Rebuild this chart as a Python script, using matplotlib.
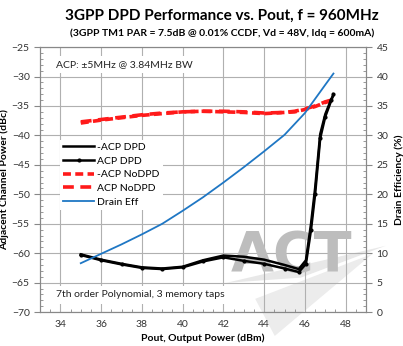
import matplotlib
matplotlib.use('Agg')
from matplotlib import pyplot as plt
from matplotlib.ticker import MultipleLocator
from matplotlib.patches import Polygon

plt.rcParams['font.family'] = ['Lato', 'DejaVu Sans']

# 数据
pout_nodpd = [35, 36, 37, 38, 39, 40, 41, 42, 43, 44, 45, 45.5, 46, 46.5, 47, 47.4]
acp_lo_nodpd = [-37.9, -37.4, -37.0, -36.6, -36.3, -36.0, -35.9, -36.0, -36.1, -36.3, -36.1, -36.0, -35.6, -35.1, -34.4, -34.0]
acp_hi_nodpd = [-37.7, -37.3, -36.9, -36.5, -36.2, -36.0, -35.9, -35.9, -36.0, -36.2, -36.1, -35.9, -35.5, -35.0, -34.3, -33.9]

pout_dpd = [35, 36, 37, 38, 39, 40, 41, 42, 43, 44, 45, 45.7, 46.05, 46.3, 46.5, 46.75, 47.0, 47.3, 47.4]
acp_lo_dpd = [-60.2, -61.1, -61.8, -62.4, -62.6, -62.3, -61.2, -60.4, -60.6, -61.1, -62.0, -62.7, -61.2, -55.0, -49.0, -39.8, -36.4, -33.8, -33.2]
acp_hi_dpd = [-60.3, -61.2, -61.9, -62.5, -62.7, -62.4, -61.4, -60.7, -61.3, -61.8, -62.6, -63.2, -61.8, -56.0, -50.0, -40.5, -36.8, -34.0, -33.0]

pout_eff = [35, 36, 37, 38, 39, 40, 41, 42, 43, 44, 45, 46, 47, 47.4]
drain_eff = [8.3, 9.9, 11.5, 13.2, 15.0, 17.2, 19.5, 22.0, 24.6, 27.3, 30.1, 33.8, 38.6, 40.5]

fig = plt.figure(figsize=(4.03, 3.46), dpi=100)
ax = fig.add_axes([0.0993, 0.098, 0.809, 0.766])
ax2 = ax.twinx()

# 水印
ax.add_patch(Polygon([[0.57, 0.11], [1.06, 0.25], [0.80, 0.13]], closed=True, clip_on=False,
                     transform=ax.transAxes, facecolor='#e8e8e8', edgecolor='none', zorder=0.3))
ax.add_patch(Polygon([[0.66, 0.05], [1.02, 0.22], [0.72, -0.09]], closed=True, clip_on=False,
                     transform=ax.transAxes, facecolor='#ececec', edgecolor='none', zorder=0.3))
ax.text(0.77, 0.21, 'ACT', transform=ax.transAxes, fontsize=40, fontweight='bold',
        family='DejaVu Sans', color='#bdbdbd', ha='center', va='center', zorder=0.6)

ax.plot(pout_nodpd, acp_lo_nodpd, color='#ff1a1a', lw=2.6, dashes=(2.2, 1.2), label='-ACP NoDPD', zorder=3)
ax.plot(pout_nodpd, acp_hi_nodpd, color='#ff1a1a', lw=2.6, dashes=(3.0, 1.8), label='ACP NoDPD', zorder=3)
ax.plot(pout_dpd, acp_lo_dpd, color='black', lw=1.8, label='-ACP DPD', zorder=4)
ax.plot(pout_dpd, acp_hi_dpd, color='black', lw=1.8, marker='o', ms=2, label='ACP DPD', zorder=4)
ax2.plot(pout_eff, drain_eff, color='#1f77c4', lw=1.3, label='Drain Eff', zorder=2)

ax.set_xlim(33, 49)
ax.set_ylim(-70, -25)
ax2.set_ylim(0, 45)
ax.xaxis.set_major_locator(MultipleLocator(2))
ax.xaxis.set_minor_locator(MultipleLocator(0.5))
ax.yaxis.set_major_locator(MultipleLocator(5))
ax.yaxis.set_minor_locator(MultipleLocator(1))
ax2.yaxis.set_major_locator(MultipleLocator(5))
ax2.yaxis.set_minor_locator(MultipleLocator(1))
ax.grid(True, which='major', color='#b0b0b0', lw=0.8)
ax.set_axisbelow(True)

ax.tick_params(axis='both', which='major', labelsize=7.5, length=4, color='#888888', labelcolor='#333333')
ax.tick_params(axis='both', which='minor', direction='in', length=2.5, color='#888888')
ax.tick_params(axis='x', which='major', length=0, pad=6)
ax2.tick_params(axis='y', which='major', labelsize=7.5, length=4, color='#888888', labelcolor='#333333')
ax2.tick_params(axis='y', which='minor', direction='in', length=2.5, color='#888888')
for a in (ax, ax2):
    for s in a.spines.values():
        s.set_color('#888888')

ax.set_xlabel('Pout, Output Power (dBm)', fontsize=7.5, fontweight='bold', labelpad=3)
ax.set_ylabel('Adjacent Channel Power (dBc)', fontsize=7.5, fontweight='bold', labelpad=2)
ax2.set_ylabel('Drain Efficiency (%)', fontsize=7.5, fontweight='bold', labelpad=4)

fig.text(0.55, 0.955, '3GPP DPD Performance vs. Pout, f = 960MHz', ha='center', va='center',
         fontsize=11, fontweight='bold')
fig.text(0.55, 0.905, '(3GPP TM1 PAR = 7.5dB @ 0.01% CCDF, Vd = 48V, Idq = 600mA)', ha='center', va='center',
         fontsize=7.5, fontweight='bold')

ax.text(0.05, 0.935, 'ACP: \u00b15MHz @ 3.84MHz BW', transform=ax.transAxes, fontsize=7.5,
        va='center', ha='left', color='#222222', zorder=5,
        bbox=dict(facecolor='white', edgecolor='none', pad=3))
ax.text(0.05, 0.065, '7th order Polynomial, 3 memory taps', transform=ax.transAxes, fontsize=7.5,
        va='center', ha='left', color='#222222', zorder=5,
        bbox=dict(facecolor='white', edgecolor='none', pad=3))

h1, l1 = ax.get_legend_handles_labels()
h2, l2 = ax2.get_legend_handles_labels()
order = [2, 3, 0, 1]
handles = [h1[i] for i in order] + h2
labels = [l1[i] for i in order] + l2
leg = ax2.legend(handles, labels, loc='upper left', bbox_to_anchor=(0.045, 0.67), fontsize=7.5,
                 frameon=True, fancybox=False, edgecolor='none', framealpha=1,
                 handlelength=3, handletextpad=0.3, labelspacing=0.42, borderpad=0.3)

fig.savefig('out.png', dpi=100)
